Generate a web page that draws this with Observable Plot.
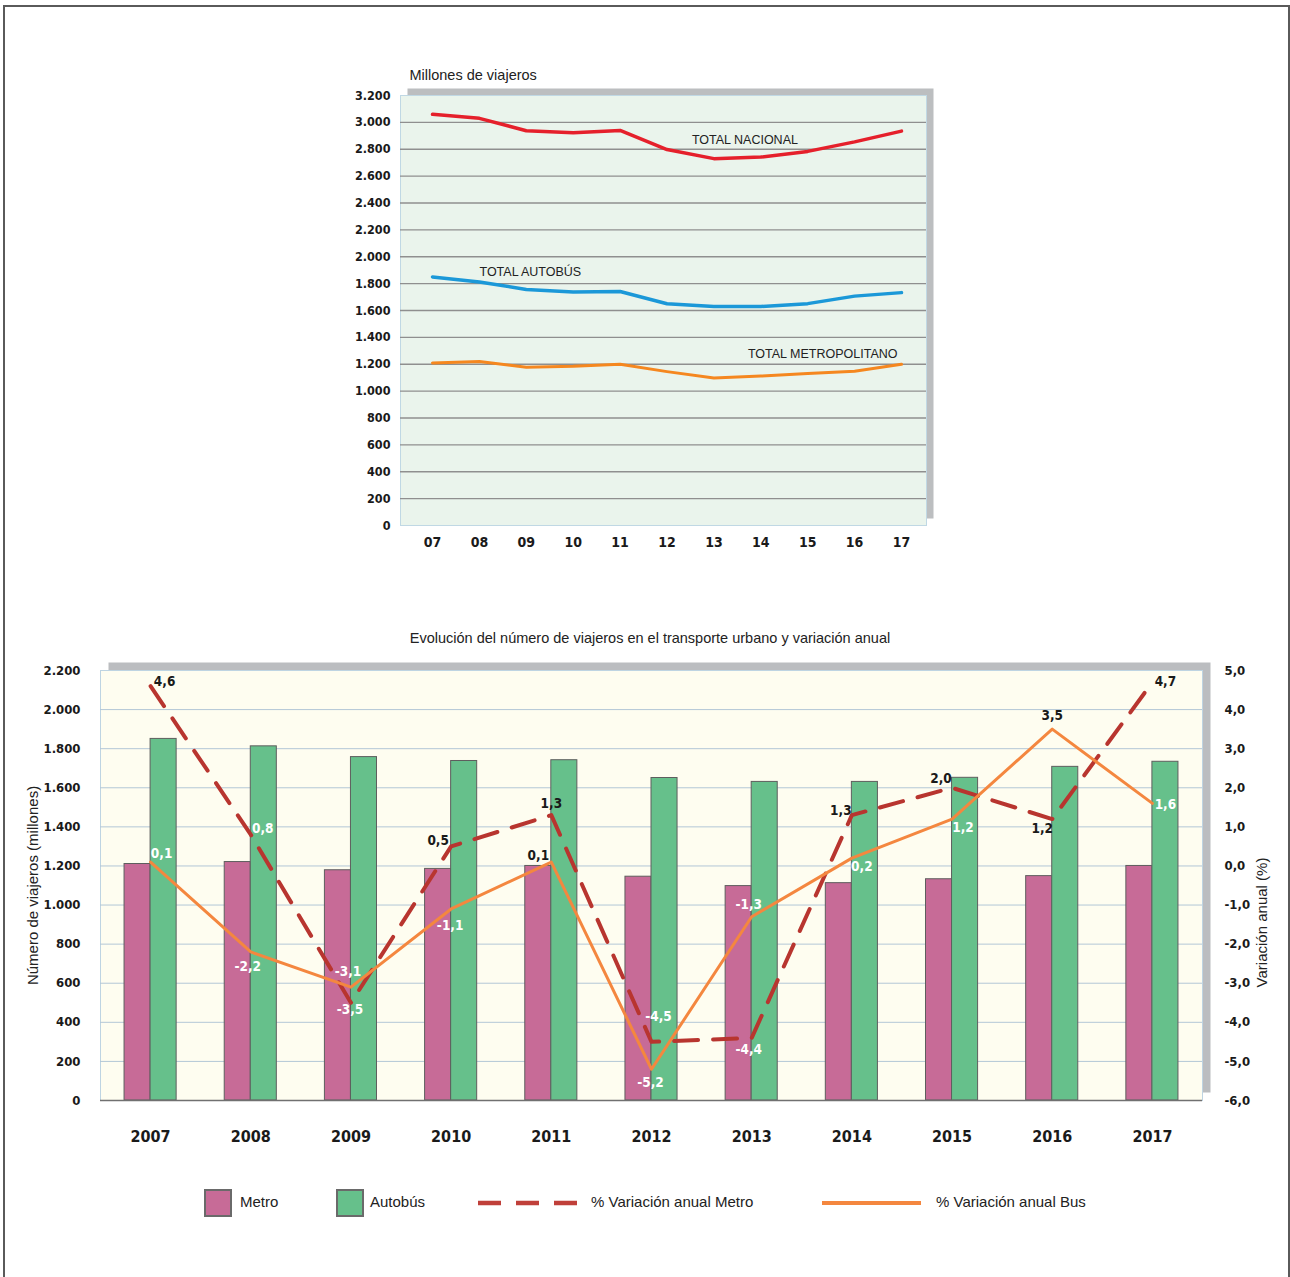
<!DOCTYPE html>
<html><head><meta charset="utf-8">
<script src="https://cdn.jsdelivr.net/npm/d3@7"></script>
<script src="https://cdn.jsdelivr.net/npm/@observablehq/plot@0.6"></script>
<style>
body{margin:0;background:#fff;}
#page{position:relative;width:1290px;height:1277px;overflow:hidden;font-family:"Liberation Sans",Arial,sans-serif;color:#222;}
#border{position:absolute;left:3px;top:5px;width:1283px;height:1320px;border:2px solid #5a5a5a;border-bottom:none;}
.abs{position:absolute;}
.sw{position:absolute;width:24px;height:24px;border:2px solid #6a6a6a;}
.lt{position:absolute;font-size:15px;line-height:18px;color:#222;white-space:nowrap;}
</style></head><body><div id="page"><div id="border"></div></div>
<script>
// ---------- data ----------
const yearsShort = ["07","08","09","10","11","12","13","14","15","16","17"];
const years = [2007,2008,2009,2010,2011,2012,2013,2014,2015,2016,2017];
const nacional = [3060,3030,2938,2922,2940,2798,2730,2742,2784,2855,2935];
const autobus = [1850,1812,1757,1737,1741,1650,1630,1630,1651,1707,1733];
const metro = [1210,1220,1178,1185,1200,1145,1097,1112,1132,1148,1200];
const varMetro = [4.6,0.8,-3.5,0.5,1.3,-4.5,-4.4,1.3,2.0,1.2,4.7];
const varBus = [0.1,-2.2,-3.1,-1.1,0.1,-5.2,-1.3,0.2,1.2,3.5,1.6];
const topTicks = [0,200,400,600,800,1000,1200,1400,1600,1800,2000,2200,2400,2600,2800,3000,3200];
const leftTicks = [0,200,400,600,800,1000,1200,1400,1600,1800,2000,2200];
const rightTicks = [-6,-5,-4,-3,-2,-1,0,1,2,3,4,5];

// ---------- label placement (annotation styling) ----------
const metroLabelOffset = [[14,-4],[12,-6],[-1,7],[-13,-6],[0,-11],[7,-25],[-3,12],[-11,-4],[-11,-9],[-10,10],[13,-1]];
const metroLabelWhite = [false,true,true,false,false,true,true,false,false,false,false];
const busLabelOffset = [[11,-8],[-3,15],[-3,-15],[-1,17],[-13,-6],[-1,13],[-3,-12],[10,9],[11,9],[0,-13],[13,1]];
const busLabelWhite = [true,true,true,true,false,true,true,true,true,false,true];

const loc = d3.formatLocale({decimal: ",", thousands: ".", grouping: [3], currency: ["", ""], minus: "-"});
const fmtInt = loc.format(",");
const fmt1 = loc.format(".1f");
const NARROW = "'Liberation Sans Narrow', 'DejaVu Sans Condensed', 'Liberation Sans', sans-serif";
const REG = "'Liberation Sans', Arial, sans-serif";
// variation (%) on the secondary axis expressed in the primary scale: -6 → 0, 5 → 2200
const toLeft = v => (v + 6) * 200;

const page = document.getElementById("page");
function place(el, left, top) {
  const w = document.createElement("div");
  w.className = "abs"; w.style.left = left + "px"; w.style.top = top + "px";
  w.appendChild(el); page.appendChild(w); return w;
}

// ---------- top chart ----------
const topChart = Plot.plot({
  width: 1290, height: 500,
  marginTop: 35, marginBottom: 35, marginLeft: 400, marginRight: 364,
  style: {fontFamily: NARROW, fontSize: "13px", fontWeight: "bold", color: "#1a1a1a", background: "transparent"},
  x: {type: "point", domain: yearsShort, range: [432, 901], padding: 0, round: false},
  y: {domain: [0, 3200]},
  marks: [
    Plot.frame({fill: "#bcbec0", dx: 7, dy: -7}),
    Plot.frame({fill: "#eaf4ec", stroke: "#c0d8e4"}),
    Plot.ruleY(topTicks.slice(1, -1), {stroke: "#8f8f8f", strokeWidth: 1.3}),
    Plot.axisY(topTicks, {tickSize: 0, tickPadding: 10, tickFormat: fmtInt, label: null, fontSize: 12.5}),
    Plot.axisX({tickSize: 0, tickPadding: 12, label: null, fontSize: 14}),
    Plot.lineY(nacional, {x: yearsShort, stroke: "#e5202b", strokeWidth: 3.5}),
    Plot.lineY(autobus, {x: yearsShort, stroke: "#1b98d8", strokeWidth: 3.5}),
    Plot.lineY(metro, {x: yearsShort, stroke: "#f5871f", strokeWidth: 3}),
    Plot.text([6], {x: i => yearsShort[i], y: i => nacional[i], text: () => "TOTAL NACIONAL", dx: 31, dy: -19, fontFamily: REG, fontWeight: "normal", fontSize: 12.5, fill: "#222"}),
    Plot.text([2], {x: i => yearsShort[i], y: i => autobus[i], text: () => "TOTAL AUTOBÚS", dx: 4, dy: -17, fontFamily: REG, fontWeight: "normal", fontSize: 12.5, fill: "#222"}),
    Plot.text([8], {x: i => yearsShort[i], y: i => metro[i], text: () => "TOTAL METROPOLITANO", dx: 15, dy: -19, fontFamily: REG, fontWeight: "normal", fontSize: 12.5, fill: "#222"}),
    Plot.text(["Millones de viajeros"], {frameAnchor: "top-left", dx: 9, dy: -20, textAnchor: "start", lineAnchor: "middle", fontFamily: REG, fontWeight: "normal", fontSize: 14.5, fill: "#222"})
  ]
});
place(topChart, 0, 60);

// ---------- bottom chart ----------
const BAR = 0.26;
const labelMarks = [];
years.forEach((yr, i) => {
  labelMarks.push(Plot.text([i], {x: j => years[j], y: j => toLeft(varMetro[j]), text: j => fmt1(varMetro[j]),
    dx: metroLabelOffset[i][0], dy: metroLabelOffset[i][1], fill: metroLabelWhite[i] ? "#ffffff" : "#1a1a1a", fontSize: 13.5}));
  labelMarks.push(Plot.text([i], {x: j => years[j], y: j => toLeft(varBus[j]), text: j => fmt1(varBus[j]),
    dx: busLabelOffset[i][0], dy: busLabelOffset[i][1], fill: busLabelWhite[i] ? "#ffffff" : "#1a1a1a", fontSize: 13.5}));
});

const bottomChart = Plot.plot({
  width: 1290, height: 580,
  marginTop: 70, marginBottom: 80, marginLeft: 100, marginRight: 88,
  style: {fontFamily: NARROW, fontSize: "13px", fontWeight: "bold", color: "#1a1a1a", background: "transparent"},
  x: {type: "linear", domain: [2006.5, 2017.5]},
  y: {domain: [0, 2200]},
  marks: [
    Plot.frame({fill: "#bbbdc0", dx: 8, dy: -8}),
    Plot.frame({fill: "#fefdf0", stroke: "#bed4e2"}),
    Plot.ruleY(leftTicks.slice(1, -1), {stroke: "#b3c7d6", strokeWidth: 1}),
    Plot.rect(years, {x1: d => d - BAR, x2: d => d, y1: 0, y2: metro, fill: "#c76b97", stroke: "#5e5e5e", strokeWidth: 1}),
    Plot.rect(years, {x1: d => d, x2: d => d + BAR, y1: 0, y2: autobus, fill: "#66c08b", stroke: "#5e5e5e", strokeWidth: 1}),
    Plot.ruleY([0], {stroke: "#707070", strokeWidth: 1.5}),
    Plot.axisY(leftTicks, {tickSize: 0, tickPadding: 20, tickFormat: fmtInt, label: null, fontSize: 13}),
    Plot.axisY(rightTicks.map(toLeft), {anchor: "right", tickSize: 0, tickPadding: 22, tickFormat: d => fmt1(d / 200 - 6), label: null, fontSize: 13}),
    Plot.axisX(years, {tickSize: 0, tickPadding: 30, tickFormat: d => String(d), label: null, fontSize: 16}),
    Plot.line(years, {x: d => d, y: (d, i) => toLeft(varMetro[i]), stroke: "#b8352f", strokeWidth: 4, strokeDasharray: "24,15"}),
    Plot.line(years, {x: d => d, y: (d, i) => toLeft(varBus[i]), stroke: "#f4873f", strokeWidth: 3}),
    ...labelMarks,
    Plot.text(["Número de viajeros (millones)"], {frameAnchor: "left", textAnchor: "middle", dx: -67, rotate: -90, fontFamily: REG, fontWeight: "normal", fontSize: 15, fill: "#222"}),
    Plot.text(["Variación anual (%)"], {frameAnchor: "right", textAnchor: "middle", dx: 60, dy: 37, rotate: -90, fontFamily: REG, fontWeight: "normal", fontSize: 15, fill: "#222"})
  ]
});
place(bottomChart, 0, 600);

// ---------- title ----------
const title = document.createElement("div");
title.textContent = "Evolución del número de viajeros en el transporte urbano y variación anual";
title.style.cssText = "width:1300px;text-align:center;font-size:14.5px;line-height:18px;color:#222;";
place(title, 0, 629);

// ---------- legend ----------
function sw(left, color) {
  const d = document.createElement("div"); d.className = "sw";
  d.style.left = left + "px"; d.style.top = "1189px"; d.style.background = color; page.appendChild(d);
}
function lt(left, text) {
  const d = document.createElement("div"); d.className = "lt";
  d.style.left = left + "px"; d.style.top = "1193px"; d.textContent = text; page.appendChild(d);
}
function lineSample(left, width, color, dash, sw) {
  const ns = "http://www.w3.org/2000/svg";
  const s = document.createElementNS(ns, "svg");
  s.setAttribute("width", width); s.setAttribute("height", 10);
  s.style.cssText = `position:absolute;left:${left}px;top:1198px;`;
  const l = document.createElementNS(ns, "line");
  l.setAttribute("x1", 0); l.setAttribute("x2", width); l.setAttribute("y1", 5); l.setAttribute("y2", 5);
  l.setAttribute("stroke", color); l.setAttribute("stroke-width", sw);
  if (dash) l.setAttribute("stroke-dasharray", dash);
  s.appendChild(l); page.appendChild(s);
}
sw(204, "#c76b97"); lt(240, "Metro");
sw(336, "#66c08b"); lt(370, "Autobús");
lineSample(478, 99, "#c0403a", "23,15", 4.5); lt(591, "% Variación anual Metro");
lineSample(822, 99, "#f4873f", null, 4); lt(936, "% Variación anual Bus");
</script></body></html>
